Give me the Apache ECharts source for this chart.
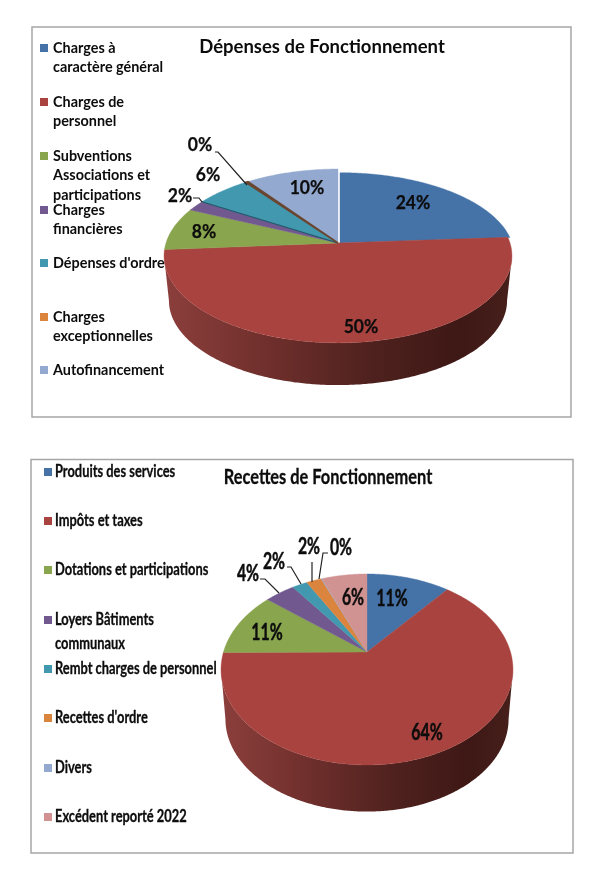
<!DOCTYPE html>
<html><head><meta charset="utf-8">
<style>html,body{margin:0;padding:0;background:#fff}#c{width:600px;height:881px}</style>
<script src="https://cdn.jsdelivr.net/npm/echarts@6/dist/echarts.min.js"></script>
</head><body><div id="c"></div>
<script>
// ---- data ----
const depensesTitle = "Dépenses de Fonctionnement";
const depensesCategories = ["Charges à caractère général","Charges de personnel","Subventions Associations et participations","Charges financières","Dépenses d'ordre","Charges exceptionnelles","Autofinancement"];
const depensesLegendLines = [["Charges à","caractère général"],["Charges de","personnel"],["Subventions","Associations et","participations"],["Charges","financières"],["Dépenses d'ordre"],["Charges","exceptionnelles"],["Autofinancement"]];
const depensesValues = [24,50,8,2,6,0.3,10];
const recettesTitle = "Recettes de Fonctionnement";
const recettesCategories = ["Produits des services","Impôts et taxes","Dotations et participations","Loyers Bâtiments communaux","Rembt charges de personnel","Recettes d'ordre","Divers","Excédent reporté 2022"];
const recettesLegendLines = [["Produits des services"],["Impôts et taxes"],["Dotations et participations"],["Loyers Bâtiments","communaux"],["Rembt charges de personnel"],["Recettes d'ordre"],["Divers"],["Excédent reporté 2022"]];
const recettesValues = [11,64,11,4,2,2,0.1,6];
const palette = ["#4572A7","#A8433F","#89A54E","#71588F","#4198AF","#DB843D","#93A9CF","#D19392"];

// ---- layout (styles and positions only) ----
const depLayout = {
  ax:338, ay:243, rx:172, ry:85, k:0.149, depth:45, bottomScale:0.972,
  legendYs:[48,102,156,210,263,317,370], legendX:40, lineHeight:19.6, legendFont:"Lato", legendSize:14.4,
  titleX:322, titleY:47, titleSize:18.5, titleFont:"Lato",
  labelFont:"Lato", labelSize:19, labelScaleX:0.92, labelStroke:0.25,
  labelPos:[[413,203],[361,327],[204,232],[180,196],[208,175],[200,145],[307,188]],
  leaders:{3:[[193,198],[199,198],[202,202]],5:[[215,152],[218,152],[247,185]]},
  offsets:{0:[2,0,0.95]}, sliver:{5:"#6a4630"}, edge:{4:"#1f5566"}
};
const recLayout = {
  ax:367, ay:652, rx:143.5, ry:92.3, k:0.183, depth:50, bottomScale:0.97,
  legendYs:[472,521,570,620,669,718,768,817], legendX:44, lineHeight:24, legendFont:"Lato", legendSize:16.5,
  textX:55, textScaleX:0.78, textStroke:0.3,
  titleX:328, titleY:477, titleSize:21, titleFont:"Lato", titleScaleX:0.78,
  labelFont:"Lato", labelSize:22, labelScaleX:0.72, labelStroke:0.45,
  labelPos:[[392,599],[427,733],[267,633],[248,574],[274,562],[309,547],[341,548],[353,598]],
  leaders:{3:[[260,579],[265,579],[279,593]],4:[[287,567],[291,567],[301,584]],5:[[312,562],[312,582]],6:[[328,553],[323,553],[319,579]]},
  offsets:{}, sliver:{}, edge:{}
};
const wallGradient = {type:"linear",x:0,y:0,x2:1,y2:0,colorStops:[
  {offset:0,color:"#8C3F3C"},{offset:0.3,color:"#6F2F2C"},{offset:0.6,color:"#4E211E"},{offset:0.85,color:"#3E1815"},{offset:1,color:"#47201C"}]};
const inkColor = "#0c0c0c";

// perspective projection of a point on the pie's circular face
function project(L, theta, lift, sx, sy){
  const u = Math.sin(theta), v = Math.cos(theta), w = 1 + L.k*v;
  return [L.ax + L.rx*(sx||1)*u/w, L.ay + (lift||0) - L.ry*(sy||1)*v/w];
}

function sliceSeries(L, names, values){
  const total = values.reduce((a,b)=>a+b,0);
  const wallFrom = Math.PI/2 + Math.asin(L.k), wallTo = 1.5*Math.PI - Math.asin(L.k);
  let acc = 0;
  return names.map((name,i)=>{
    const start = acc/total*2*Math.PI; acc += values[i];
    const end = acc/total*2*Math.PI;
    return {
      type:"custom", name, coordinateSystem:"none", silent:true, animation:false,
      itemStyle:{color:palette[i]}, z: 2,
      data:[[values[i]]],
      renderItem(params, api){
        const val = api.value(0);
        const children = [];
        const off = L.offsets[i] || [0,0,1];
        // outer wall
        const a = Math.max(start,wallFrom), b = Math.min(end,wallTo);
        if(b>a){
          const top=[], bot=[];
          for(let t=a;t<b;t+=0.01){ top.push(project(L,t,0)); bot.push(project(L,t,L.depth,L.bottomScale,L.bottomScale)); }
          top.push(project(L,b,0)); bot.push(project(L,b,L.depth,L.bottomScale,L.bottomScale));
          children.push({type:"polygon",shape:{points:top.concat(bot.reverse())},style:{fill:wallGradient,stroke:null}});
        }
        // top face
        const pts=[[L.ax+off[0],L.ay+off[1]]];
        for(let t=start;t<end;t+=0.01){ const p=project(L,t,0,1,off[2]); pts.push([p[0]+off[0],p[1]+off[1]]); }
        const e=project(L,end,0,1,off[2]); pts.push([e[0]+off[0],e[1]+off[1]]);
        const fill = L.sliver[i] || palette[i];
        children.push({type:"polygon",shape:{points:pts},style:{fill,stroke:fill,lineWidth:L.sliver[i]?1.6:0.4},z2:L.sliver[i]?5:0});
        if(L.edge[i]){
          const s=project(L,start,0);
          children.push({type:"line",shape:{x1:L.ax,y1:L.ay,x2:s[0],y2:s[1]},style:{stroke:L.edge[i],lineWidth:1.2}});
        }
        // leader line
        if(L.leaders[i]) children.push({type:"polyline",shape:{points:L.leaders[i]},style:{fill:null,stroke:"#222",lineWidth:1.2},z2:20});
        // data label
        const lp=L.labelPos[i];
        children.push({type:"text",x:lp[0],y:lp[1],scaleX:L.labelScaleX,z2:30,style:{
          text:Math.round(val/total*100)+"%",align:"center",verticalAlign:"middle",
          fill:inkColor,stroke:inkColor,lineWidth:L.labelStroke,font:"bold "+L.labelSize+'px "'+L.labelFont+'"'}});
        return {type:"group",children};
      }
    };
  });
}

function legends(L, names, lines){
  return names.map((name,i)=>{
    const scaled = !!L.textScaleX;            // condensed text is drawn by legendTexts()
    const n = scaled ? 1 : lines[i].length;
    const text = scaled ? " " : "\n".repeat(n-1)+lines[i].join("\n");
    return {
      data:[name], icon:"rect", selectedMode:false, padding:0, itemWidth:8, itemHeight:8,
      left:L.legendX, top:L.legendYs[i]-(2*n-1)*L.lineHeight/2,
      formatter:()=>text,
      textStyle:{color:inkColor,fontFamily:L.legendFont,fontSize:L.legendSize,fontWeight:"bold",lineHeight:L.lineHeight}
    };
  });
}

function legendTexts(L, lines){
  return lines.map((ls,i)=>({
    type:"text",x:L.textX,y:L.legendYs[i]-L.lineHeight/2,scaleX:L.textScaleX,silent:true,
    style:{text:ls.join("\n"),fill:inkColor,stroke:inkColor,lineWidth:L.textStroke,font:"bold "+L.legendSize+'px "'+L.legendFont+'"',lineHeight:L.lineHeight,align:"left",verticalAlign:"top"}
  }));
}

const chart = echarts.init(document.getElementById("c"),null,{renderer:"canvas"});
chart.setOption({
  animation:false, backgroundColor:"#fff",
  title:[{text:depensesTitle,left:depLayout.titleX,top:depLayout.titleY,textAlign:"center",textVerticalAlign:"middle",padding:0,
    textStyle:{fontFamily:depLayout.titleFont,fontSize:depLayout.titleSize,fontWeight:"bold",color:inkColor}}],
  legend:legends(depLayout,depensesCategories,depensesLegendLines).concat(legends(recLayout,recettesCategories,recettesLegendLines)),
  graphic:[
    {type:"rect",shape:{x:32,y:27,width:539,height:390},style:{fill:"none",stroke:"#a6a6a6",lineWidth:1.5},silent:true,z:0},
    {type:"rect",shape:{x:31,y:459.5,width:542,height:393.5},style:{fill:"none",stroke:"#a6a6a6",lineWidth:1.5},silent:true,z:0},
    {type:"text",x:recLayout.titleX,y:recLayout.titleY,scaleX:recLayout.titleScaleX,silent:true,
     style:{text:recettesTitle,fill:inkColor,stroke:inkColor,lineWidth:recLayout.textStroke,font:"bold "+recLayout.titleSize+'px "'+recLayout.titleFont+'"',align:"center",verticalAlign:"middle"}}
  ].concat(legendTexts(recLayout,recettesLegendLines)),
  series:sliceSeries(depLayout,depensesCategories,depensesValues).concat(sliceSeries(recLayout,recettesCategories,recettesValues))
});
</script></body></html>
